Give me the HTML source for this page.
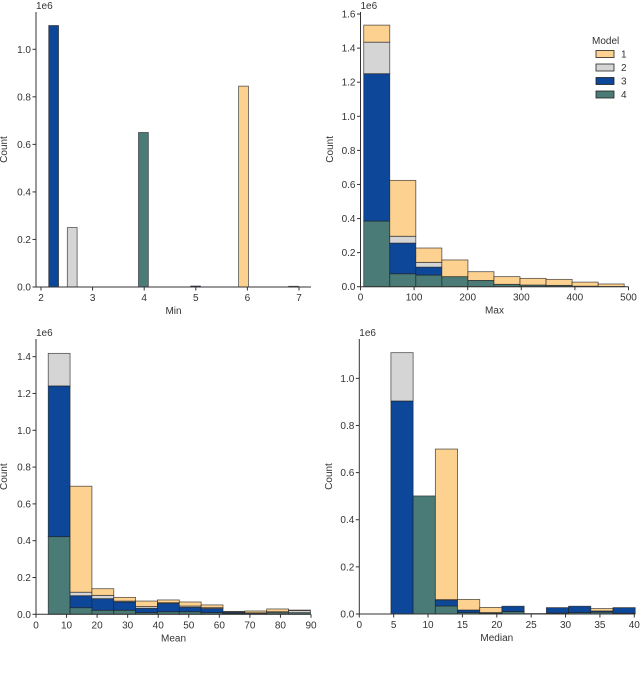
<!DOCTYPE html>
<html><head><meta charset="utf-8"><style>
body{margin:0;background:#fff;width:640px;height:675px;overflow:hidden}
svg{font-family:"Liberation Sans",sans-serif}
</style></head><body>
<svg id="c" width="640" height="675" xmlns="http://www.w3.org/2000/svg"></svg>
<script>
const colors = {1:'#fdd290',2:'#d5d5d5',3:'#0d4799',4:'#4a7b76'};
// Min panel
const minBinStarts=[2.15,2.51,3.89,4.9,5.83,6.8];
const minSeries=[3,2,4,3,1,3];
const minValues=[1.1,0.25,0.65,0.004,0.845,0.003];
const minBinWidth=0.19;
const minXTicks=[2,3,4,5,6,7];
const minYTicks=[0,0.2,0.4,0.6,0.8,1.0];
// Max panel
const maxBinStart=6, maxBinWidth=48.6;
const maxS4=[0.385,0.076,0.068,0.059,0.037,0.014,0.010,0.008,0.003,0.001];
const maxS3=[0.865,0.180,0.047,0.0,0.0,0,0,0,0,0];
const maxS2=[0.185,0.040,0.028,0,0,0,0,0,0,0];
const maxS1=[0.100,0.328,0.084,0.098,0.051,0.045,0.039,0.035,0.024,0.015];
const maxXTicks=[0,100,200,300,400,500];
const maxYTicks=[0,0.2,0.4,0.6,0.8,1.0,1.2,1.4,1.6];
// Mean panel
const meanBinStart=4, meanBinWidth=7.15;
const meanS4=[0.422,0.036,0.022,0.022,0.009,0.014,0.014,0.009,0.005,0.002,0.009,0.009];
const meanS3=[0.819,0.065,0.063,0.045,0.024,0.046,0.024,0.022,0.006,0.002,0,0];
const meanS2=[0.177,0.019,0.018,0.005,0.009,0.003,0.007,0.005,0.003,0.004,0.005,0.011];
const meanS1=[0,0.576,0.036,0.020,0.030,0.015,0.022,0.015,0.002,0.010,0.015,0.003];
const meanXTicks=[0,10,20,30,40,50,60,70,80,90];
const meanYTicks=[0,0.2,0.4,0.6,0.8,1.0,1.2,1.4];
// Median panel
const medBinStart=4.6, medBinWidth=3.23;
const medS4=[0,0.501,0.034,0.006,0.003,0.010,0.002,0.004,0.006,0.008,0.003];
const medS3=[0.904,0,0.025,0.011,0.003,0.023,0,0.023,0.027,0.005,0.024];
const medS2=[0.205,0,0.002,0,0,0,0,0,0,0,0];
const medS1=[0,0,0.639,0.045,0.022,0,0,0,0,0.010,0];
const medXTicks=[0,5,10,15,20,25,30,35,40];
const medYTicks=[0,0.2,0.4,0.6,0.8,1.0];

const svg=document.getElementById('c');
const NS='http://www.w3.org/2000/svg';
function mk(tag,attrs,parent){const e=document.createElementNS(NS,tag);for(const k in attrs)e.setAttribute(k,attrs[k]);(parent||svg).appendChild(e);return e;}

function panel(name,ax,xlabel,xTicks,yTicks,fmtX){
  const g=mk('g',{});
  
  
  const sx=v=>ax.x0+(v-ax.xmin)/(ax.xmax-ax.xmin)*(ax.x1-ax.x0);
  const sy=v=>ax.y0-v/ax.ymax*(ax.y0-ax.y1);
  return {g,sx,sy,finish(){
    const yl=mk('line',{x1:ax.x0,y1:ax.y0,x2:ax.x0,y2:ax.y1,stroke:'#333','stroke-width':1},g);
    
    const xl=mk('line',{x1:ax.x0,y1:ax.y0,x2:ax.x1,y2:ax.y0,stroke:'#333','stroke-width':1},g);
    
    xTicks.forEach(t=>{const x=sx(t);mk('line',{x1:x,y1:ax.y0,x2:x,y2:ax.y0+3.5,stroke:'#333'},g);
      const tx=mk('text',{x:x,y:ax.y0+14,'font-size':10,'text-anchor':'middle',fill:'#333'},g);tx.textContent=t;
      });
    yTicks.forEach(t=>{const y=sy(t);mk('line',{x1:ax.x0-3.5,y1:y,x2:ax.x0,y2:y,stroke:'#333'},g);
      const tx=mk('text',{x:ax.x0-5,y:y+3.5,'font-size':10,'text-anchor':'end',fill:'#333'},g);tx.textContent=t.toFixed(1);
      });
    const e6=mk('text',{x:ax.x0,y:ax.y1-3,'font-size':10,fill:'#333'},g);e6.textContent='1e6';
    
    const xt=mk('text',{x:(ax.x0+ax.x1)/2,y:ax.y0+27,'font-size':10,'text-anchor':'middle',fill:'#333'},g);xt.textContent=xlabel;
    
    const cy=(ax.y0+ax.y1)/2;
    const yt=mk('text',{x:ax.cx,y:cy,'font-size':10,'text-anchor':'middle',fill:'#333',transform:`rotate(-90 ${ax.cx} ${cy})`},g);yt.textContent='Count';
    
  }};
}
function bar(p,name,x0,x1,b,t,s){
  const r=mk('rect',{x:p.sx(x0),y:p.sy(t),width:p.sx(x1)-p.sx(x0),height:Math.max(0,p.sy(b)-p.sy(t)),fill:colors[s],stroke:'#222','stroke-width':0.8,'stroke-opacity':0.75},p.g);
  
  
}
function stacked(p,name,start,w,series){
  const n=series[0].length;
  for(let i=0;i<n;i++){let base=0;
    [4,3,2,1].forEach((s,k)=>{const v=series[k][i];if(v>0){bar(p,name+'-bar-model'+s,start+i*w,start+(i+1)*w,base,base+v,s);}base+=v;});
  }
}
// Min
const p1=panel('min',{x0:36,x1:311,y0:287,y1:12,xmin:(36-41)/51.6+2,xmax:(311-41)/51.6+2,ymax:(287-12)/237.7,cx:7},'Min',minXTicks,minYTicks);
minBinStarts.forEach((x,i)=>bar(p1,'min-bar-model'+minSeries[i],x,x+minBinWidth,0,minValues[i],minSeries[i]));
p1.finish();
// Max
const p2=panel('max',{x0:360.5,x1:628.5,y0:286.7,y1:12,xmin:0,xmax:500,ymax:1.612,cx:333},'Max',maxXTicks,maxYTicks);
stacked(p2,'max',maxBinStart,maxBinWidth,[maxS4,maxS3,maxS2,maxS1]);
p2.finish();
// Mean
const p3=panel('mean',{x0:36,x1:311,y0:614.3,y1:339,xmin:0,xmax:90,ymax:1.496,cx:7},'Mean',meanXTicks,meanYTicks);
stacked(p3,'mean',meanBinStart,meanBinWidth,[meanS4,meanS3,meanS2,meanS1]);
p3.finish();
// Median
const p4=panel('median',{x0:359.3,x1:634.3,y0:614,y1:339,xmin:0,xmax:40,ymax:1.167,cx:332},'Median',medXTicks,medYTicks);
stacked(p4,'median',medBinStart,medBinWidth,[medS4,medS3,medS2,medS1]);
p4.finish();
// Legend
const lg=mk('g',{});


const lt=mk('text',{x:592,y:44,'font-size':10,fill:'#333'},lg);lt.textContent='Model';

[1,2,3,4].forEach((s,i)=>{const y=54+i*13.5;
  const r=mk('rect',{x:596,y:y-3.5,width:18,height:7,fill:colors[s],stroke:'#222','stroke-width':0.8},lg);
  
  const t=mk('text',{x:621,y:y+3.5,'font-size':10,fill:'#333'},lg);t.textContent=s;
  });
</script>
</body></html>
